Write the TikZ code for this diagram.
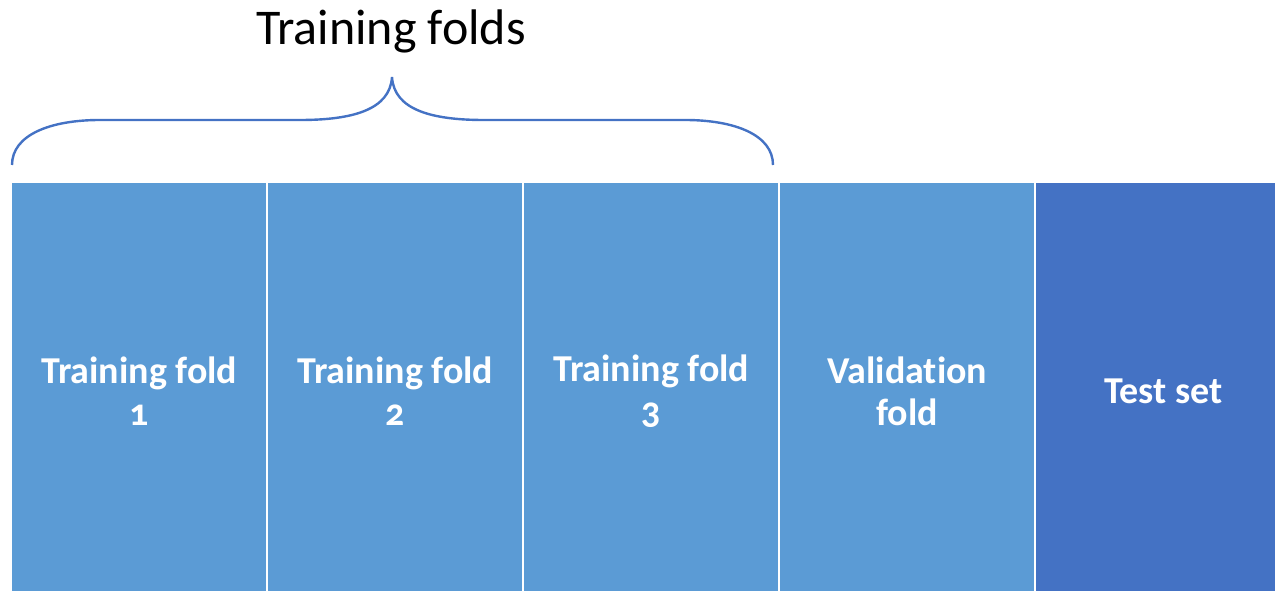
\documentclass[tikz,border=0pt]{standalone}
\usepackage{fontspec}
\setmainfont{Carlito}[Numbers=OldStyle, Ligatures=NoCommon]
\definecolor{foldblue}{HTML}{5B9BD5}
\definecolor{testblue}{HTML}{4472C4}
\begin{document}
\begin{tikzpicture}[x=1pt,y=-1pt,
  part/.style={fill=#1, draw=none, anchor=north west, inner sep=0pt,
    minimum width=254pt, minimum height=408pt},
  partlabel/.style={text=white, align=center, inner sep=0pt, yshift=-4pt,
    font=\fontsize{38}{42}\selectfont\bfseries},
  brace/.style={draw=testblue, line width=2.4pt}]
  \useasboundingbox (0,0) rectangle (1275,591);
  \clip (0,0) rectangle (1275,591);
  \node[part=foldblue] (f1) at (12,183) {};
  \node[part=foldblue] (f2) at (268,183) {};
  \node[part=foldblue] (f3) at (524,183) {};
  \node[part=foldblue] (v) at (780,183) {};
  \node[part=testblue] (t) at (1036,183) {};
  \node[partlabel] (f1l) at (f1.center) {Training fold\\1};
  \node[partlabel] (f2l) at (f2.center) {Training fold\\2};
  \node[partlabel] (f3l) at (f3.center) {Training fold\\3};
  \node[partlabel] (vl) at (v.center) {Validation\\fold};
  \node[partlabel] (tl) at (t.center) {Test set};
  % curly brace over the three training folds
  \coordinate (bl) at (12,165);
  \coordinate (tip) at (392,77);
  \coordinate (br) at (773,165);
  \draw[brace] (bl) .. controls (12,135) and (50,120) .. (100,120) -- (300,120)
    .. controls (352,120) and (390,110) .. (tip)
    .. controls (394,110) and (432,120) .. (484,120) -- (685,120)
    .. controls (735,120) and (773,135) .. (br);
  \node[font=\fontsize{50}{58}\selectfont, inner sep=0pt] (lbl) at (391,31) {Training folds};
\end{tikzpicture}
\end{document}
